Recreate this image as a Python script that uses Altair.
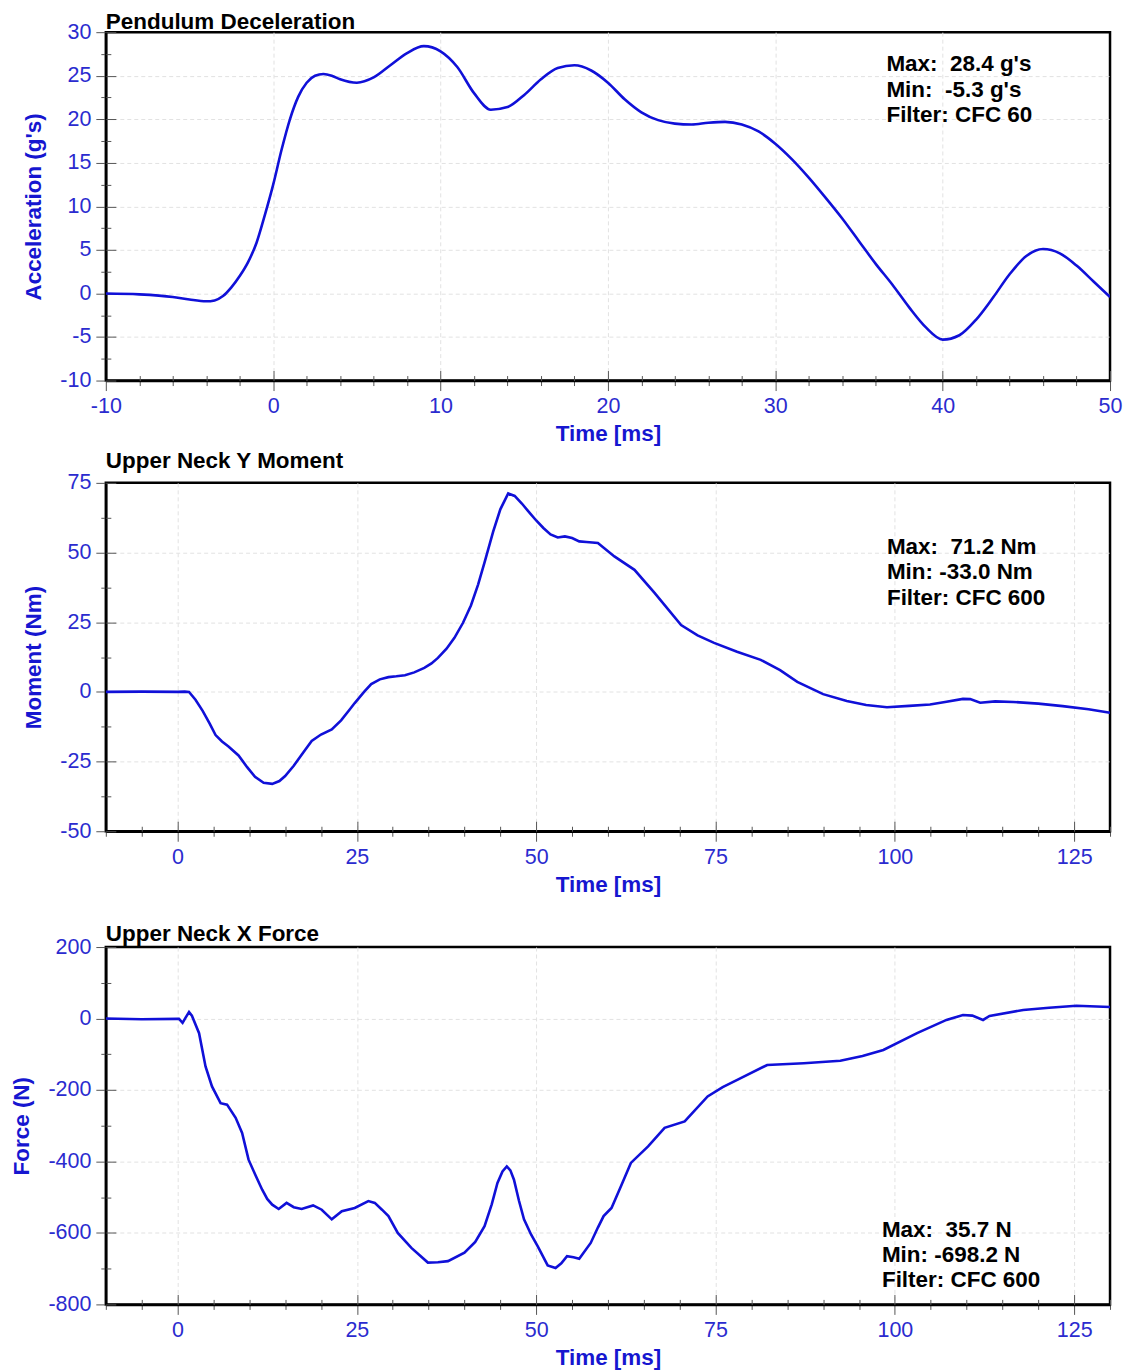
import altair as alt
import pandas as pd
import numpy as np

FONT = "Liberation Sans"
LINE_BLUE = "#1010d8"
LABEL_BLUE = "#2b2bcf"
TITLE_BLUE = "#1616d0"

# ---------------- Panel 1: Pendulum Deceleration ----------------
accel_time = [-10, -8, -6, -5, -4, -3.5, -3, -2.5, -2, -1.5, -1, -0.5, 0, 0.5, 1, 1.5, 2, 2.5,
              3, 3.5, 4, 5, 6, 7, 8, 9, 10, 11, 12, 13, 14, 15, 16, 17, 18, 19, 20, 21, 22, 23,
              24, 25, 26, 27, 28, 29, 30, 31, 32, 33, 34, 35, 36, 37, 38, 39, 40, 41, 42, 43,
              44, 45, 46, 47, 48, 49, 50]
accel_value = [0.0, -0.1, -0.4, -0.7, -0.9, -0.8, -0.3, 0.7, 2.0, 3.6, 5.8, 9.0, 12.5, 16.5,
               20.0, 22.6, 24.2, 25.0, 25.2, 25.0, 24.6, 24.2, 24.8, 26.2, 27.6, 28.4, 27.8,
               26.0, 23.0, 21.1, 21.4, 22.8, 24.6, 25.9, 26.2, 25.6, 24.2, 22.3, 20.8, 19.9,
               19.5, 19.4, 19.6, 19.7, 19.4, 18.6, 17.2, 15.4, 13.3, 11.0, 8.6, 6.0, 3.4, 1.0,
               -1.6, -3.9, -5.3, -4.8, -3.0, -0.5, 2.2, 4.3, 5.1, 4.6, 3.2, 1.4, -0.4]
accel_notes = ["Max:\u00a0\u00a028.4 g's", "Min:\u00a0\u00a0-5.3 g's", "Filter: CFC 60"]

# ---------------- Panel 2: Upper Neck Y Moment ----------------
moment_time = [-10, -5, 0, 1, 1.6, 2.5, 3.5, 4.5, 5.3, 6.2, 7.1, 8.5, 9.7, 10.8, 12, 13.2, 14.2,
               15, 16.2, 17.5, 18.7, 20, 21.5, 22.8, 24, 24.7, 26, 27, 28.2, 29.4, 30.5, 31.7,
               33, 34.4, 35.4, 36.3, 37.5, 38.6, 39.8, 40.9, 41.9, 42.8, 44, 45, 46.1, 47, 48,
               49, 50, 51, 52, 53, 54, 55, 56, 57, 58.6, 60.9, 63.7, 66.5, 70.2, 72.5, 74.8,
               78, 81.3, 84, 86.4, 90, 93.3, 96, 98.9, 102, 104.9, 107, 109.5, 110.5, 111.9,
               114, 116.5, 120, 123.4, 127, 130]
moment_value = [0.0, 0.1, 0.0, 0.1, 0.0, -2.8, -6.8, -11.5, -15.5, -17.8, -19.6, -22.8, -27.0,
                -30.5, -32.6, -33.0, -32.0, -30.2, -26.5, -21.8, -17.6, -15.3, -13.5, -10.2,
                -6.3, -4.0, 0.0, 2.8, 4.5, 5.3, 5.6, 6.0, 7.0, 8.6, 10.2, 12.2, 15.5, 19.4,
                24.8, 31.0, 38.5, 46.5, 57.5, 65.5, 71.2, 70.3, 67.6, 64.5, 61.5, 58.8, 56.5,
                55.4, 55.8, 55.2, 54.0, 53.8, 53.4, 48.6, 43.8, 35.5, 24.0, 20.3, 17.6, 14.4,
                11.5, 7.8, 3.6, -0.8, -3.3, -4.7, -5.5, -5.0, -4.5, -3.6, -2.5, -2.6, -3.9,
                -3.4, -3.6, -4.2, -5.1, -6.2, -7.5]
moment_notes = ["Max:\u00a0\u00a071.2 Nm", "Min: -33.0 Nm", "Filter: CFC 600"]

# ---------------- Panel 3: Upper Neck X Force ----------------
force_time = [-10, -5, 0, 0.2, 0.7, 1.1, 1.6, 2.0, 3.0, 3.9, 4.8, 6.0, 6.9, 8.1, 9.0, 9.9, 10.9,
              11.8, 12.5, 13.2, 14.1, 15.2, 16.2, 17.3, 18.9, 20.1, 21.5, 22.9, 24.7, 26.6,
              27.5, 28.5, 29.4, 30.7, 32.6, 34.9, 36.3, 37.7, 40.0, 41.5, 42.8, 43.8, 44.6,
              45.3, 45.9, 46.4, 46.9, 47.6, 48.3, 49.3, 50.2, 51.6, 52.7, 53.5, 54.3, 55.2,
              56.0, 57.6, 58.6, 59.4, 60.5, 61.8, 63.2, 65.6, 67.9, 70.7, 73.9, 76.0, 78.1,
              82.2, 87.3, 92.4, 95.5, 98.4, 103.1, 107.2, 109.5, 110.8, 112.3, 113.2, 117.9,
              121.5, 125.3, 130]
force_value = [0, -2, -1, -1, -12, 2, 18, 8, -41, -134, -190, -237, -241, -278, -320, -395,
               -440, -479, -505, -521, -533, -516, -528, -533, -523, -535, -562, -539, -530,
               -511, -516, -535, -553, -600, -642, -683, -682, -679, -655, -625, -581, -520,
               -460, -428, -414, -425, -451, -510, -562, -605, -637, -691, -698, -685, -665,
               -668, -672, -628, -585, -553, -530, -470, -404, -358, -306, -288, -218, -192,
               -171, -130, -125, -118, -105, -88, -41, -4, 10, 8, -4, 7, 24, 30, 35.7, 32]
force_notes = ["Max:\u00a0\u00a035.7 N", "Min: -698.2 N", "Filter: CFC 600"]


def ticks(lo, hi, step):
    return [float(v) for v in np.round(np.arange(lo, hi + step / 2, step), 4)]


def is_major(major):
    return f"abs(datum.value % {major}) < 1e-6"


def main_axis(dom, step, major, title, orient):
    test = is_major(major)
    grid_test = f"{test} && datum.value > {dom[0]} && datum.value < {dom[1]}"
    return alt.Axis(
        values=ticks(dom[0], dom[1], step),
        title=title,
        orient=orient,
        labelExpr=f"{test} ? '' + datum.value : ''",
        tickSize=alt.condition(test, alt.value(10), alt.value(5)),
        gridOpacity=alt.condition(grid_test, alt.value(1), alt.value(0)),
        labelFlush=False,
        labelOverlap=False,
        labelPadding=5,
        titlePadding=6 if orient == "bottom" else 14,
    )


def inner_axis(dom, step, major, orient, want_major):
    vals = [v for v in ticks(dom[0], dom[1], step)
            if (abs(v % major) < 1e-6) == want_major]
    size = 10 if want_major else 5
    return alt.Axis(
        values=vals, title=None, orient=orient, labels=False, domain=False, grid=False,
        tickSize=size, offset=-size,
    )


def panel(title, time, value, xdom, xstep, xmajor, ydom, ystep, ymajor, ytitle,
          notes, note_x, note_y, height, interp, title_offset):
    df = pd.DataFrame({"t": time, "v": value})
    xs = alt.Scale(domain=xdom, nice=False, zero=False)
    ys = alt.Scale(domain=ydom, nice=False, zero=False)
    base = alt.Chart(df)
    line = base.mark_line(color=LINE_BLUE, strokeWidth=2.6, clip=True,
                          interpolate=interp).encode(
        x=alt.X("t:Q", scale=xs, axis=main_axis(xdom, xstep, xmajor, "Time [ms]", "bottom")),
        y=alt.Y("v:Q", scale=ys, axis=main_axis(ydom, ystep, ymajor, ytitle, "left")),
    )
    inner_major = base.mark_line(strokeOpacity=0).encode(
        x=alt.X("t:Q", scale=xs, axis=inner_axis(xdom, xstep, xmajor, "bottom", True)),
        y=alt.Y("v:Q", scale=ys, axis=inner_axis(ydom, ystep, ymajor, "left", True)),
    )
    inner_minor = base.mark_line(strokeOpacity=0).encode(
        x=alt.X("t:Q", scale=xs, axis=inner_axis(xdom, xstep, xmajor, "bottom", False)),
        y=alt.Y("v:Q", scale=ys, axis=inner_axis(ydom, ystep, ymajor, "left", False)),
    )
    note = alt.Chart(pd.DataFrame({"k": [0]})).mark_text(
        align="left", baseline="top", font=FONT, fontSize=22.5, fontWeight="bold",
        color="black", lineHeight=25.5,
    ).encode(x=alt.value(note_x), y=alt.value(note_y), text=alt.value(notes))
    return alt.layer(line, inner_major, inner_minor, note).resolve_axis(
        x="independent", y="independent"
    ).properties(
        width=1006, height=height,
        title=alt.TitleParams(title, anchor="start", frame="group", font=FONT,
                              fontSize=22.5, fontWeight="bold", color="black",
                              offset=title_offset),
    )


p1 = panel("Pendulum Deceleration", accel_time, accel_value, [-10, 50], 2, 10,
           [-10, 30], 2.5, 5, "Acceleration (g's)", accel_notes, 782, 21, 349, "monotone", -12)
p2 = panel("Upper Neck Y Moment", moment_time, moment_value, [-10, 130], 5, 25,
           [-50, 75], 12.5, 25, "Moment (Nm)", moment_notes, 782.5, 53, 349, "linear", -1)
p3 = panel("Upper Neck X Force", force_time, force_value, [-10, 130], 5, 25,
           [-800, 200], 100, 200, "Force (N)", force_notes, 777.5, 272, 358, "linear", -9)

chart = alt.vconcat(alt.vconcat(p1, p2, spacing=1.5), p3, spacing=23.5).properties(
    padding={"left": 1, "top": 0, "right": 0, "bottom": 0},
    background="white",
).configure_view(
    stroke="black", strokeWidth=2.5
).configure_axis(
    domainColor="black", domainWidth=2.5, tickColor="#555555", tickWidth=1,
    labelFont=FONT, labelFontSize=21.5, labelColor=LABEL_BLUE,
    titleFont=FONT, titleFontSize=22.5, titleFontWeight="bold", titleColor=TITLE_BLUE,
    gridColor="#e2e2e2", gridDash=[4, 3], gridWidth=1,
)

chart.save("out.html", embed_options={"renderer": "svg", "actions": False})
